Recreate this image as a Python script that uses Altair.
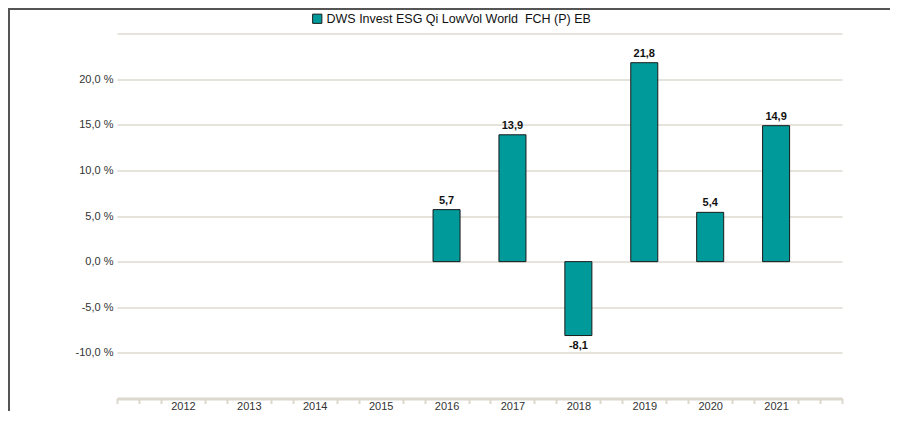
import altair as alt
import pandas as pd

years = [2012, 2013, 2014, 2015, 2016, 2017, 2018, 2019, 2020, 2021]
returns = [None, None, None, None, 5.7, 13.9, -8.1, 21.8, 5.4, 14.9]
series_name = "DWS Invest ESG Qi LowVol World\u00a0 FCH (P) EB"
y_ticks = [-15, -10, -5, 0, 5, 10, 15, 20, 25]
x_ticks = [2011 + k / 3 for k in range(34)]

df = pd.DataFrame({"year": years, "value": returns})
df["series"] = series_name
df = df.dropna()

TEAL = "#009a9a"
FONT = "Liberation Sans"

base = alt.Chart(df).transform_calculate(
    x0="datum.year - 0.205",
    x1="datum.year + 0.205",
    label="(datum.value < 0 ? '-' : '') + replace(format(abs(datum.value), '.1f'), '.', ',')",
)

x_scale = alt.Scale(domain=[2011, 2022], nice=False, zero=False)
y_scale = alt.Scale(domain=[-15, 25], nice=False)

is_label = "abs(datum.value - round(datum.value)) < 0.01 && datum.value > 2011.5 && datum.value < 2021.5"

x_axis = alt.Axis(
    values=x_ticks,
    grid=False,
    domainColor="#dcd8cc",
    domainWidth=3,
    tickColor="#dcd8cc",
    tickWidth=2,
    tickSize=5,
    tickOpacity={"condition": {"test": is_label, "value": 0}, "value": 1},
    labelExpr="(" + is_label + ") ? format(round(datum.value), 'd') : ''",
    labelPadding=-3,
    labelFont=FONT,
    labelFontSize=11,
    labelColor="#333333",
    labelOverlap=False,
    labelFlush=False,
    labelBound=False,
)

y_axis = alt.Axis(
    values=y_ticks,
    domain=False,
    ticks=False,
    gridColor="#dedad2",
    gridWidth=1.5,
    labelExpr="(datum.value < -12 || datum.value > 22) ? '' : (datum.value < 0 ? '-' : '') + replace(format(abs(datum.value), '.1f'), '.', ',') + ' %'",
    labelPadding=4,
    labelFont=FONT,
    labelFontSize=11,
    labelColor="#333333",
    labelOverlap=False,
)

bars = base.mark_bar(stroke="#1a1a1a", strokeWidth=1).encode(
    x=alt.X("x0:Q", scale=x_scale, title=None, axis=x_axis),
    x2="x1:Q",
    y=alt.Y("value:Q", scale=y_scale, title=None, axis=y_axis),
    y2=alt.datum(0),
    color=alt.Color(
        "series:N",
        scale=alt.Scale(range=[TEAL]),
        legend=alt.Legend(
            title=None,
            orient="none",
            legendX=194,
            legendY=-21,
            symbolType="square",
            symbolSize=85,
            symbolStrokeColor="#1a1a1a",
            symbolStrokeWidth=1,
            symbolFillColor=TEAL,
            labelFont=FONT,
            labelFontSize=12.5,
            labelColor="#111111",
            labelOffset=3,
            padding=0,
            labelLimit=400,
        ),
    ),
)

pos_labels = base.transform_filter("datum.value >= 0").mark_text(
    baseline="bottom", dy=-4, font=FONT, fontSize=11, fontWeight="bold", color="#111111"
).encode(
    x=alt.X("year:Q", scale=x_scale, title=None, axis=x_axis),
    y=alt.Y("value:Q", scale=y_scale, title=None, axis=y_axis),
    text="label:N",
)

neg_labels = base.transform_filter("datum.value < 0").mark_text(
    baseline="top", dy=4, font=FONT, fontSize=11, fontWeight="bold", color="#111111"
).encode(
    x=alt.X("year:Q", scale=x_scale, title=None, axis=x_axis),
    y=alt.Y("value:Q", scale=y_scale, title=None, axis=y_axis),
    text="label:N",
)

border_df = pd.DataFrame({"b": [0]})
top_border = alt.Chart(border_df).mark_rule(color="#555555", strokeWidth=2).encode(
    x=alt.value(-108), x2=alt.value(775), y=alt.value(-24.5)
)
left_border = alt.Chart(border_df).mark_rule(color="#555555", strokeWidth=2).encode(
    x=alt.value(-108), y=alt.value(-25.5), y2=alt.value(380)
)

chart = alt.layer(bars, pos_labels, neg_labels, top_border, left_border).properties(
    width=725,
    height=365,
    background="white",
    padding={"left": 109, "top": 25.5, "right": 48, "bottom": 12},
    autosize=alt.AutoSizeParams(type="none"),
).configure_view(strokeWidth=0, stroke="transparent").configure_axisX(grid=False, labelOverlap=False)

chart.save("out.html", embed_options={"renderer": "svg", "actions": False})
